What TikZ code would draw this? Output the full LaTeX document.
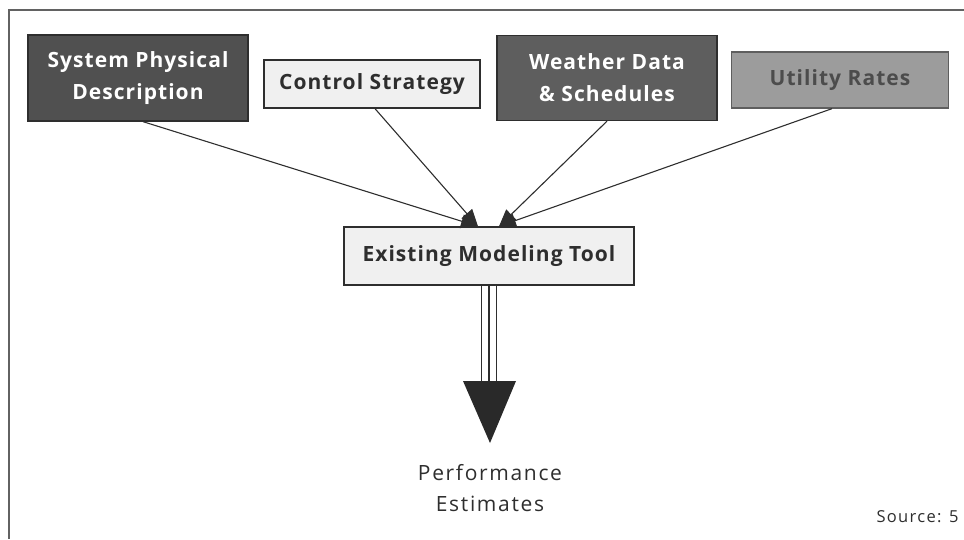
\documentclass[tikz,border=0pt]{standalone}
\usepackage{fontspec}
\setmainfont{Open Sans}
\newfontfamily\boxfont[LetterSpace=5]{Open Sans}
\newfontfamily\loosefont[LetterSpace=8]{Open Sans}
\usetikzlibrary{arrows.meta}
\definecolor{darkbox}{HTML}{505050}
\definecolor{midbox}{HTML}{5E5E5E}
\definecolor{greybox}{HTML}{9C9C9C}
\definecolor{greytext}{HTML}{4C4C4C}
\definecolor{lightbox}{HTML}{F0F0F0}
\definecolor{edge}{HTML}{2E2E2E}
\begin{document}
\begin{tikzpicture}[x=1pt,y=-1pt,
  box/.style={draw=edge, line width=1.3pt, inner sep=0pt, align=center,
    font=\boxfont\fontsize{21}{32}\selectfont\bfseries},
  feed/.style={draw=edge, line width=1.1pt, -{Triangle[length=17pt,width=14pt]}},
  plain/.style={font=\loosefont\fontsize{21}{31}\selectfont, align=center, text=edge}]
\useasboundingbox (0,0) rectangle (964,539);
% page frame
\draw[edge!75, line width=1.5pt] (964,10) -- (9,10) -- (9,539);
% input boxes
\node[box, fill=darkbox, text=white, minimum width=220pt, minimum height=86pt]
  (sys) at (138,78) {System Physical\\Description};
\node[box, fill=lightbox, text=edge, minimum width=216pt, minimum height=48pt]
  (ctrl) at (372,84) {Control Strategy};
\node[box, fill=midbox, text=white, minimum width=220pt, minimum height=85pt]
  (wthr) at (607,78) {Weather Data\\\& Schedules};
\node[box, fill=greybox, draw=greybox!60!black, text=greytext, minimum width=217pt, minimum height=56pt]
  (util) at (840,80) {Utility Rates};
% central tool
\node[box, fill=lightbox, text=edge, minimum width=290pt, minimum height=58pt]
  (tool) at (489,256) {Existing Modeling Tool};
% output
\node[plain] (perf) at (490,488) {Performance\\Estimates};
\node[font=\loosefont\fontsize{16.5}{18}\selectfont, text=edge, anchor=east] (src) at (962,517) {Source: 5};
% inputs converging on the tool
\draw[feed] ([xshift=5pt]sys.south) -- ([xshift=-11pt]tool.north);
\draw[feed] ([xshift=3pt]ctrl.south) -- ([xshift=-11pt]tool.north);
\draw[feed] (wthr.south) -- ([xshift=10pt]tool.north);
\draw[feed] ([xshift=-8pt]util.south) -- ([xshift=10pt]tool.north);
% broad output arrow
\coordinate (neck) at (490,381);
\coordinate (tip) at (490,443);
\draw[edge, double=white, double distance=14pt, line width=1.4pt] (tool.south) -- (tool.south |- neck);
\draw[edge, line width=1.2pt] (tool.south) -- (tool.south |- neck);
\fill[edge!90!black] ([xshift=-26pt]tool.south |- neck) -- ([xshift=27pt]tool.south |- neck) -- (tip) -- cycle;
\end{tikzpicture}
\end{document}
